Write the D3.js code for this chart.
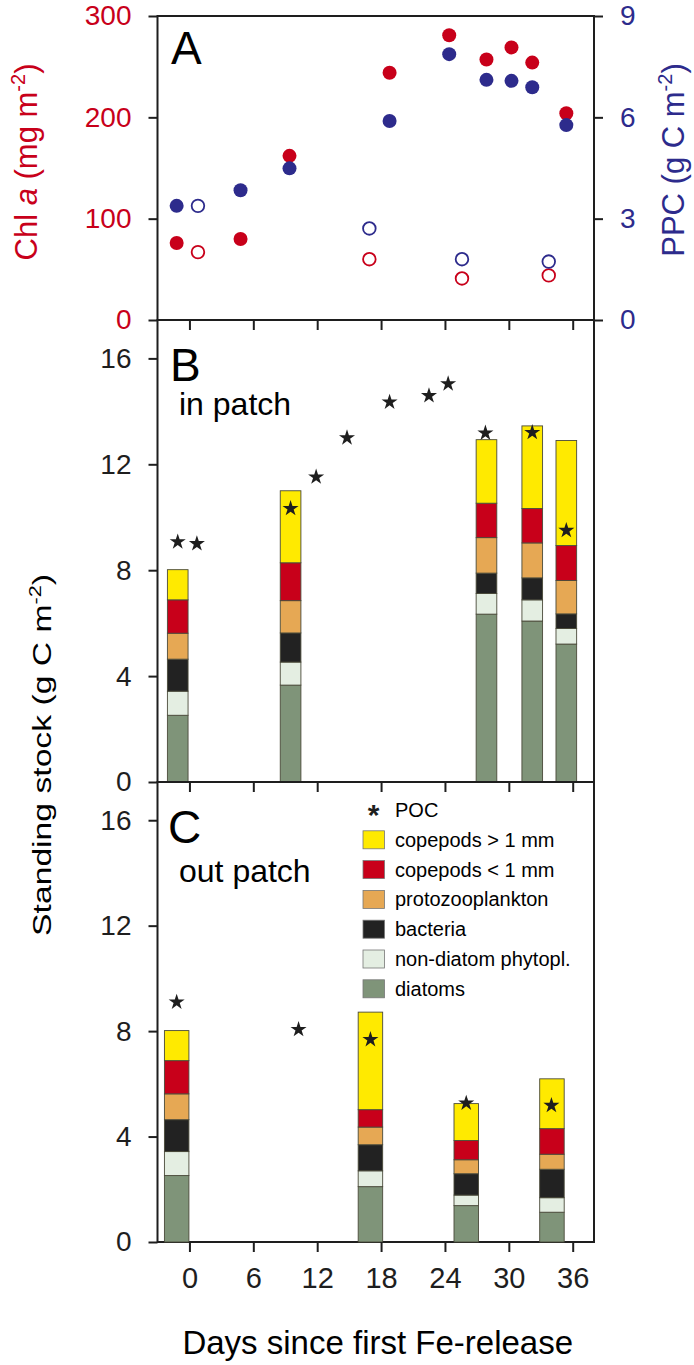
<!DOCTYPE html>
<html>
<head>
<meta charset="utf-8">
<script src="https://cdn.jsdelivr.net/npm/d3@7"></script>
<style>
  body { margin: 0; background: #fff; }
  text { font-family: "Liberation Sans", Arial, sans-serif; }
</style>
</head>
<body>
<div id="chart"></div>
<script>
// ---- data ----
// panel A: Chl a (mg m-2) and PPC (g C m-2), in patch (filled) and out patch (open)
const inDaysA = [-1.2, 4.8, 9.4, 18.8, 24.4, 27.9, 30.25, 32.2, 35.4];
const chlIn = [76, 80, 162, 244, 281, 257, 269, 254, 204];
const ppcIn = [3.38, 3.84, 4.49, 5.89, 7.87, 7.11, 7.08, 6.89, 5.77];
const outDaysA = [0.8, 16.9, 25.6, 33.75];
const chlOut = [67, 60, 41, 44];
const ppcOut = [3.38, 2.71, 1.80, 1.73];

// stack groups, bottom to top
const groups = ["diatoms", "non-diatom phytopl.", "bacteria", "protozooplankton", "copepods < 1 mm", "copepods > 1 mm"];
const groupColors = ["#7f9479", "#e4eee2", "#222222", "#e6a854", "#c8001a", "#ffea00"];

// panel B: in patch
const inBarDays = [-1.1, 9.5, 27.9, 32.2, 35.4];
const inDiatoms = [2.52, 3.66, 6.34, 6.08, 5.21];
const inNonDiatom = [0.91, 0.87, 0.78, 0.80, 0.59];
const inBacteria = [1.21, 1.10, 0.77, 0.83, 0.55];
const inProtozoo = [0.98, 1.22, 1.34, 1.32, 1.26];
const inCopSmall = [1.26, 1.43, 1.30, 1.30, 1.32];
const inCopLarge = [1.14, 2.72, 2.40, 3.12, 3.97];
const inPocDays = [-1.1, 0.7, 9.5, 11.9, 14.8, 18.8, 22.5, 24.3, 27.8, 32.2, 35.4];
const inPoc = [9.07, 9.0, 10.33, 11.52, 13.0, 14.35, 14.59, 15.04, 13.18, 13.2, 9.5];

// panel C: out patch
const outBarDays = [-1.2, 17.0, 26.0, 34.05];
const outDiatoms = [2.52, 2.10, 1.38, 1.13];
const outNonDiatom = [0.91, 0.60, 0.40, 0.55];
const outBacteria = [1.21, 0.99, 0.81, 1.08];
const outProtozoo = [0.98, 0.67, 0.53, 0.57];
const outCopSmall = [1.26, 0.66, 0.73, 0.97];
const outCopLarge = [1.14, 3.70, 1.40, 1.89];
const outPocDays = [-1.2, 10.25, 17.0, 26.0, 34.0];
const outPoc = [9.1, 8.06, 7.68, 5.27, 5.18];

const dayTicks = [0, 6, 12, 18, 24, 30, 36];
const chlTicks = [0, 100, 200, 300];
const ppcTicks = [0, 3, 6, 9];
const stockTicks = [0, 4, 8, 12, 16];

// ---- layout ----
const W = 694, H = 1365;
const LEFT = 157.5, RIGHT = 594;
const RED = "#c8001a", BLUE = "#2d2b8c", INK = "#1e1e1e";

const svg = d3.select("#chart").append("svg").attr("width", W).attr("height", H);

const x = d3.scaleLinear().domain([-3, 38]).range([LEFT, RIGHT]);
const yChl = d3.scaleLinear().domain([0, 300]).range([320, 16]);
const yPpc = d3.scaleLinear().domain([0, 9]).range([320, 16]);
const yB = d3.scaleLinear().domain([0, 17.45]).range([782, 320]);
const yC = d3.scaleLinear().domain([0, 17.45]).range([1242, 782]);

const star = d3.symbol().type(d3.symbolStar).size(80);

function frame(y0, y1) {
  svg.append("rect")
    .attr("x", LEFT).attr("y", y1)
    .attr("width", RIGHT - LEFT).attr("height", y0 - y1)
    .attr("fill", "none").attr("stroke", INK).attr("stroke-width", 2);
}

function bottomAxis(y0, labels) {
  const ax = svg.append("g").attr("transform", `translate(0,${y0})`)
    .call(d3.axisBottom(x).tickValues(dayTicks).tickSize(10).tickPadding(15)
      .tickFormat(labels ? d3.format("d") : ""));
  ax.select(".domain").remove();
  ax.selectAll("line").attr("stroke", INK).attr("stroke-width", 2);
  ax.selectAll("text").attr("font-size", 29).attr("fill", INK)
    .style("font-family", "Liberation Sans, Arial, sans-serif");
}

function leftAxis(scale, ticks, color) {
  const ax = svg.append("g").attr("transform", `translate(${LEFT},0)`)
    .call(d3.axisLeft(scale).tickValues(ticks).tickSize(9).tickPadding(17));
  ax.select(".domain").remove();
  ax.selectAll("line").attr("stroke", INK).attr("stroke-width", 2);
  ax.selectAll("text").attr("font-size", 28).attr("fill", color)
    .style("font-family", "Liberation Sans, Arial, sans-serif");
}

// ---- panel A ----
frame(320, 16);
leftAxis(yChl, chlTicks, RED);
const axR = svg.append("g").attr("transform", `translate(${RIGHT},0)`)
  .call(d3.axisRight(yPpc).tickValues(ppcTicks).tickSize(9).tickPadding(17));
axR.select(".domain").remove();
axR.selectAll("line").attr("stroke", INK).attr("stroke-width", 2);
axR.selectAll("text").attr("font-size", 28).attr("fill", BLUE)
  .style("font-family", "Liberation Sans, Arial, sans-serif");
bottomAxis(320, false);

const aIn = inDaysA.map((d, i) => ({day: d, chl: chlIn[i], ppc: ppcIn[i]}));
const aOut = outDaysA.map((d, i) => ({day: d, chl: chlOut[i], ppc: ppcOut[i]}));

svg.append("g").selectAll("circle").data(aOut).join("circle")
  .attr("cx", d => x(d.day)).attr("cy", d => yChl(d.chl)).attr("r", 6.3)
  .attr("fill", "none").attr("stroke", RED).attr("stroke-width", 1.8);
svg.append("g").selectAll("circle").data(aOut).join("circle")
  .attr("cx", d => x(d.day)).attr("cy", d => yPpc(d.ppc)).attr("r", 6.3)
  .attr("fill", "none").attr("stroke", BLUE).attr("stroke-width", 1.8);
svg.append("g").selectAll("circle").data(aIn).join("circle")
  .attr("cx", d => x(d.day)).attr("cy", d => yChl(d.chl)).attr("r", 7)
  .attr("fill", RED);
svg.append("g").selectAll("circle").data(aIn).join("circle")
  .attr("cx", d => x(d.day)).attr("cy", d => yPpc(d.ppc)).attr("r", 7)
  .attr("fill", BLUE);

// axis titles of A
const chlLab = svg.append("text")
  .attr("transform", "translate(37,162) rotate(-90)")
  .attr("text-anchor", "middle").attr("font-size", 31).attr("fill", RED);
chlLab.append("tspan").text("Chl ");
chlLab.append("tspan").attr("font-style", "italic").text("a");
chlLab.append("tspan").text(" (mg m");
chlLab.append("tspan").attr("font-size", 20).attr("dy", -12).text("-2");
chlLab.append("tspan").attr("dy", 12).text(")");

const ppcLab = svg.append("text")
  .attr("transform", "translate(684,160) rotate(-90)")
  .attr("text-anchor", "middle").attr("font-size", 31).attr("fill", BLUE);
ppcLab.append("tspan").text("PPC (g C m");
ppcLab.append("tspan").attr("font-size", 20).attr("dy", -12).text("-2");
ppcLab.append("tspan").attr("dy", 12).text(")");

// ---- stacked panels ----
function stackPanel(y, y0, y1, days, cols, width, pocDays, poc) {
  frame(y0, y1);
  leftAxis(y, stockTicks, INK);
  const rows = days.map((d, i) => {
    const r = {day: d};
    groups.forEach((g, j) => { r[g] = cols[j][i]; });
    return r;
  });
  const series = d3.stack().keys(groups)(rows);
  const w = x(width) - x(0);
  svg.append("g").selectAll("g").data(series).join("g")
    .attr("fill", (s, i) => groupColors[i])
    .selectAll("rect").data(s => s).join("rect")
    .attr("x", d => x(d.data.day) - w / 2)
    .attr("width", w)
    .attr("y", d => y(d[1]))
    .attr("height", d => y(d[0]) - y(d[1]))
    .attr("stroke", "#4a4a3a").attr("stroke-width", 0.9);
  svg.append("g").selectAll("path").data(pocDays).join("path")
    .attr("d", star)
    .attr("transform", (d, i) => `translate(${x(d)},${y(poc[i])})`)
    .attr("fill", INK);
}

stackPanel(yB, 782, 320, inBarDays,
  [inDiatoms, inNonDiatom, inBacteria, inProtozoo, inCopSmall, inCopLarge],
  1.94, inPocDays, inPoc);
bottomAxis(782, false);

stackPanel(yC, 1242, 782, outBarDays,
  [outDiatoms, outNonDiatom, outBacteria, outProtozoo, outCopSmall, outCopLarge],
  2.3, outPocDays, outPoc);
bottomAxis(1242, true);

// panel letters and captions
const panelText = [
  {t: "A", x: 171, y: 64, s: 46},
  {t: "B", x: 170, y: 381, s: 46},
  {t: "in patch", x: 179, y: 415, s: 32},
  {t: "C", x: 168, y: 843, s: 46},
  {t: "out patch", x: 179, y: 882, s: 32}
];
svg.append("g").selectAll("text").data(panelText).join("text")
  .attr("x", d => d.x).attr("y", d => d.y).attr("font-size", d => d.s)
  .attr("fill", "#000").text(d => d.t);

// y title for B and C: glyphs are drawn elongated along the text in the original
const stLab = svg.append("text")
  .attr("text-anchor", "middle").attr("font-size", 25).attr("fill", "#000");
stLab.append("tspan").text("Standing stock (g C m");
stLab.append("tspan").attr("font-size", 16).attr("dy", -10).text("-2");
stLab.append("tspan").attr("dy", 10).text(")");
const stretch = 362 / stLab.node().getComputedTextLength();
stLab.attr("transform", `translate(51,755) rotate(-90) scale(${stretch},1)`);

// x title
svg.append("text")
  .attr("x", (LEFT + RIGHT) / 2 + 2).attr("y", 1354)
  .attr("text-anchor", "middle").attr("font-size", 33).attr("fill", "#000")
  .text("Days since first Fe-release");

// ---- legend ----
const legendLabels = ["POC"].concat(groups.slice().reverse());
const legendColors = [null].concat(groupColors.slice().reverse());
const leg = svg.append("g").attr("transform", "translate(363,810)");
const item = leg.selectAll("g").data(legendLabels).join("g")
  .attr("transform", (d, i) => `translate(0,${i * 29.8})`);
item.filter((d, i) => i > 0).append("rect")
  .attr("x", 0).attr("y", -9).attr("width", 21.5).attr("height", 18)
  .attr("fill", (d, i) => legendColors[i + 1]).attr("stroke", "#777").attr("stroke-width", 0.8);
item.filter((d, i) => i === 0).append("text")
  .attr("x", 10.5).attr("y", 15).attr("text-anchor", "middle")
  .attr("font-size", 30).attr("font-weight", "bold").attr("fill", INK).text("*");
item.append("text")
  .attr("x", 32).attr("y", 7).attr("font-size", 20).attr("fill", "#000")
  .text(d => d);
</script>
</body>
</html>
